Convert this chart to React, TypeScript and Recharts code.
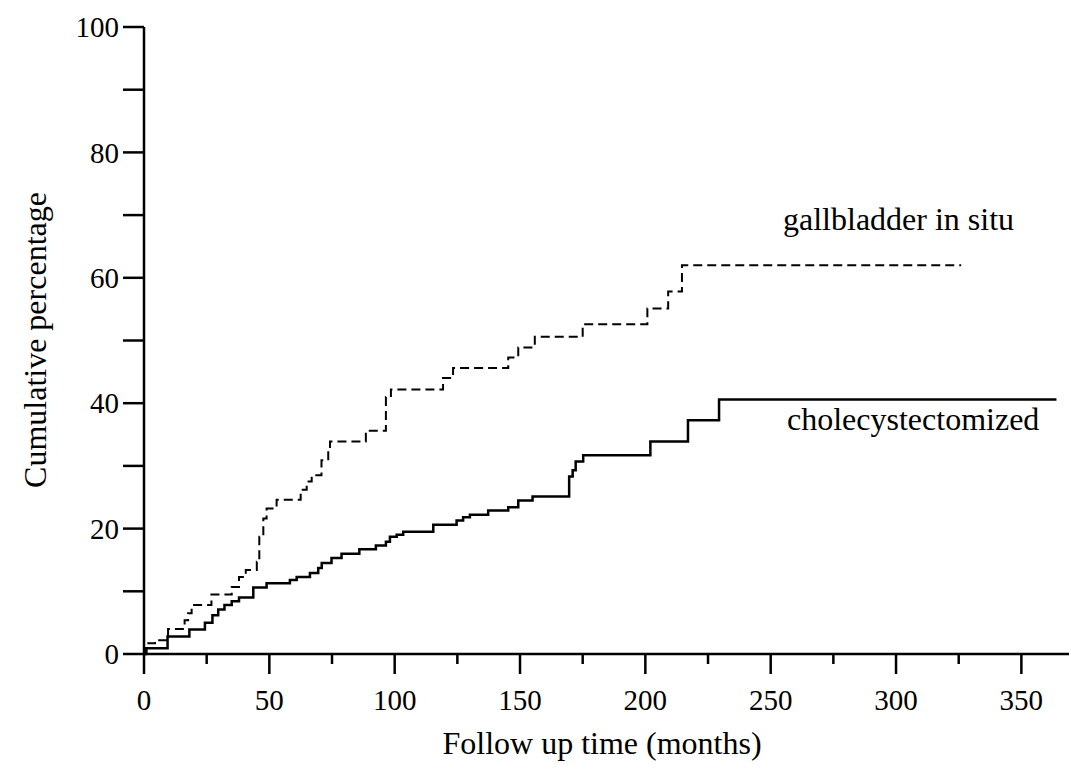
import React from "react";
import { Line, LineChart, XAxis, YAxis } from "recharts";

// Kaplan-Meier style cumulative curves (months, %)
const gallbladderMonths = [
  0, 1.0, 4.4, 9.6, 16.2, 17.6, 19.0, 26.9, 35.0, 37.9, 40.6, 45.0, 46.0, 47.6,
  48.9, 52.9, 62.5, 64.9, 66.9, 70.8, 73.5, 74.2, 88.5, 96.5, 98.5, 119.3, 123.3,
  145.3, 149.3, 155.9, 175.0, 200.8, 209.1, 214.6, 326,
];
const gallbladderPct = [
  0, 1.7, 2.2, 4.0, 5.4, 6.5, 7.8, 9.5, 10.7, 12.3, 13.4, 14.7, 18.7, 21.6,
  23.2, 24.6, 26.2, 27.5, 28.5, 30.9, 32.5, 33.9, 35.6, 41.0, 42.2, 44.0, 45.6,
  47.3, 48.9, 50.6, 52.6, 55.1, 57.8, 62.0, 62.0,
];

const cholecystMonths = [
  0, 0.8, 9.4, 18.1, 24.3, 27.3, 29.6, 32.1, 35.0, 37.9, 43.6, 48.9, 58.2, 60.9,
  66.2, 69.5, 70.9, 74.8, 78.8, 85.9, 92.5, 96.5, 98.1, 100.8, 103.4, 115.4,
  124.7, 127.3, 130.0, 137.3, 145.3, 149.3, 155.0, 169.6, 171.0, 172.2, 175.2,
  202.0, 217.0, 229.4, 364,
];
const cholecystPct = [
  0, 0.9, 2.8, 3.9, 5.0, 6.2, 7.1, 7.8, 8.4, 9.0, 10.6, 11.3, 11.8, 12.3, 12.9,
  13.7, 14.5, 15.3, 16.0, 16.7, 17.3, 17.9, 18.7, 19.0, 19.5, 20.6, 21.3, 21.8,
  22.2, 22.9, 23.4, 24.5, 25.1, 28.3, 29.3, 30.7, 31.7, 33.9, 37.3, 40.6, 40.6,
];

const xTicks = [0, 25, 50, 75, 100, 125, 150, 175, 200, 225, 250, 275, 300, 325, 350];
const yTicks = [0, 10, 20, 30, 40, 50, 60, 70, 80, 90, 100];

const gallbladderData = gallbladderMonths.map((t, i) => ({ t, v: gallbladderPct[i] }));
const cholecystData = cholecystMonths.map((t, i) => ({ t, v: cholecystPct[i] }));

const FONT = "'Liberation Serif', 'Times New Roman', serif";

const XTick = (props: any) => {
  const { x, y, payload } = props;
  const major = payload.value % 50 === 0;
  return (
    <g>
      <line x1={x} y1={y} x2={x} y2={y + (major ? 20 : 10)} stroke="#000" strokeWidth={2.5} />
      {major && (
        <text x={x} y={y + 56} textAnchor="middle" fontFamily={FONT} fontSize={29} fill="#000">
          {payload.value}
        </text>
      )}
    </g>
  );
};

export default function App() {
  return (
    <div style={{ position: "absolute", left: 0, top: 0, width: 1071, height: 769, background: "#fff" }}>
      <LineChart width={1071} height={769} margin={{ top: 27, right: 2, left: 0, bottom: 0 }}>
        <XAxis
          type="number"
          dataKey="t"
          domain={[0, 369]}
          ticks={xTicks}
          allowDataOverflow
          height={115}
          tickSize={0}
          tickMargin={0}
          tickLine={false}
          tick={<XTick />}
          axisLine={{ stroke: "#000", strokeWidth: 2.5 }}
        />
        <YAxis
          type="number"
          domain={[0, 100]}
          ticks={yTicks}
          width={144}
          tickSize={21}
          tickMargin={4}
          tickLine={{ stroke: "#000", strokeWidth: 2.5 }}
          axisLine={{ stroke: "#000", strokeWidth: 2.5 }}
          tickFormatter={(v: number) => (v % 20 === 0 ? String(v) : "")}
          tick={{ fill: "#000", fontSize: 29, fontFamily: FONT }}
        />
        <Line
          data={gallbladderData}
          dataKey="v"
          type="stepAfter"
          stroke="#000"
          strokeWidth={2}
          strokeDasharray="9 5"
          dot={false}
          isAnimationActive={false}
        />
        <Line
          data={cholecystData}
          dataKey="v"
          type="stepAfter"
          stroke="#000"
          strokeWidth={2.5}
          dot={false}
          isAnimationActive={false}
        />
      </LineChart>
      <svg
        width={1071}
        height={769}
        style={{ position: "absolute", left: 0, top: 0, pointerEvents: "none" }}
      >
        <text x={783} y={230} fontFamily={FONT} fontSize={32} fill="#000">
          gallbladder in situ
        </text>
        <text x={787} y={430} fontFamily={FONT} fontSize={32} fill="#000">
          cholecystectomized
        </text>
        <text x={602} y={754} textAnchor="middle" fontFamily={FONT} fontSize={32} fill="#000">
          Follow up time (months)
        </text>
        <text
          transform="translate(46,340) rotate(-90)"
          textAnchor="middle"
          fontFamily={FONT}
          fontSize={32}
          fill="#000"
        >
          Cumulative percentage
        </text>
      </svg>
    </div>
  );
}
